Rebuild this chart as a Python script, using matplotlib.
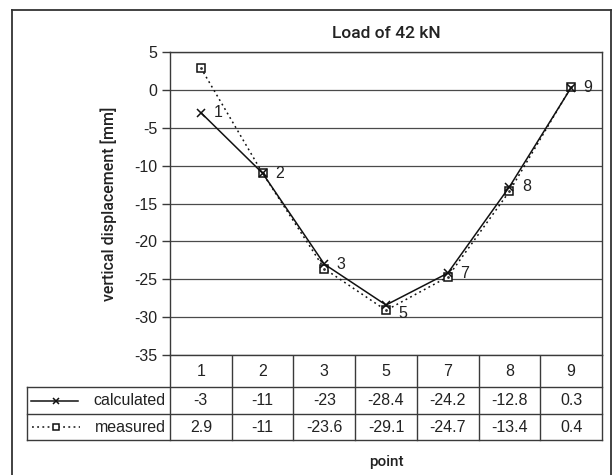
import matplotlib
matplotlib.use("Agg")
import matplotlib.pyplot as plt
from matplotlib import transforms

# data
points = ['1', '2', '3', '5', '7', '8', '9']
calculated = [-3, -11, -23, -28.4, -24.2, -12.8, 0.3]
measured = [2.9, -11, -23.6, -29.1, -24.7, -13.4, 0.4]
yticks = [-35, -30, -25, -20, -15, -10, -5, 0, 5]

W, H = 613, 475
ink = '#222222'
linec = '#3a3a3a'
num_font = 'Liberation Sans'
head_font = 'Roboto'
fs = 11.5

fig = plt.figure(figsize=(W / 100, H / 100), dpi=100)

# overlay in pixel coordinates for frame and table
ov = fig.add_axes([0, 0, 1, 1])
ov.set_xlim(0, W)
ov.set_ylim(H, 0)
ov.axis('off')
ov.patch.set_alpha(0)

# plot area
left, right, top, bottom = 170, 602, 52, 355
ax = fig.add_axes([left / W, 1 - bottom / H, (right - left) / W, (bottom - top) / H])
x = list(range(len(points)))
ax.set_xlim(-0.5, len(points) - 0.5)
ax.set_ylim(yticks[0], yticks[-1])
ax.set_yticks(yticks)
ax.set_yticklabels([str(t) for t in yticks], fontfamily=num_font, fontsize=fs, color=ink)
ax.set_xticks([])
ax.tick_params(axis='y', direction='out', length=6, width=1, color=linec, pad=3)
for s in ax.spines.values():
    s.set_color(linec)
    s.set_linewidth(1)
ax.grid(axis='y', color='#4a4a4a', lw=0.9)
ax.set_axisbelow(True)

ax.plot(x, measured, color='#111111', lw=1.1, ls=(0, (1.2, 2.2)),
        marker='s', ms=6, mfc='white', mec='#111111', mew=1.1, zorder=3)
ax.plot(x, measured, ls='none', marker='.', ms=2, color='#333333', zorder=3)
ax.plot(x, calculated, color='#111111', lw=1.1, marker='x', ms=6, mew=1.1, zorder=4)

offsets = {'5': (9, -6)}
for xi, yi, lab in zip(x, calculated, points):
    ax.annotate(lab, (xi, yi), xytext=offsets.get(lab, (9, 0)), textcoords='offset points',
                ha='left', va='center', fontsize=fs, fontfamily=num_font, color=ink)

ax.set_title('Load of 42 kN', fontfamily=head_font, fontweight='medium', fontsize=12.5,
             color=ink, pad=10)
ov.text(109, (top + bottom) / 2, 'vertical displacement [mm]', rotation=90,
        ha='center', va='center', fontfamily=head_font, fontweight='medium',
        fontsize=11.5, color=ink)

# outer frame
ov.plot([12, 12], [10, H], color='#333333', lw=1.3)
ov.plot([12, 611], [10, 10], color='#333333', lw=1.3)
ov.plot([611, 611], [10, H], color='#333333', lw=1.3)

# data table under the plot
bt = transforms.blended_transform_factory(ax.transData, ov.transData)
r0, r1, r2, r3 = bottom, 387, 414, 440
for i in range(len(points) + 1):
    ov.plot([i - 0.5, i - 0.5], [r0, r3], color=linec, lw=1, transform=bt)
for yy in (r1, r2, r3):
    ov.plot([27, right], [yy, yy], color=linec, lw=1)
ov.plot([27, 27], [r1, r3], color=linec, lw=1)

for i, p in enumerate(points):
    ov.text(i, (r0 + r1) / 2, p, ha='center', va='center', transform=bt,
            fontfamily=num_font, fontsize=fs, color=ink)
    ov.text(i, (r1 + r2) / 2, f'{calculated[i]:g}', ha='center', va='center', transform=bt,
            fontfamily=num_font, fontsize=fs, color=ink)
    ov.text(i, (r2 + r3) / 2, f'{measured[i]:g}', ha='center', va='center', transform=bt,
            fontfamily=num_font, fontsize=fs, color=ink)

# legend keys in the table
yc = (r1 + r2) / 2
ov.plot([31, 78], [yc, yc], color='#111111', lw=1.1)
ov.plot([56], [yc], marker='x', ms=5, mew=1.1, color='#111111')
ov.text(166, yc, 'calculated', ha='right', va='center', fontfamily=num_font,
        fontsize=fs, color=ink)
ym = (r2 + r3) / 2
ov.plot([32, 80], [ym, ym], color='#111111', lw=1.1, ls=(0, (1.2, 2.2)))
ov.plot([56], [ym], marker='s', ms=5, mfc='white', mec='#111111', mew=1.1)
ov.text(166, ym, 'measured', ha='right', va='center', fontfamily=num_font,
        fontsize=fs, color=ink)

ov.text((left + right) / 2, 462, 'point', ha='center', va='center',
        fontfamily=head_font, fontweight='medium', fontsize=11, color=ink)

fig.savefig('out.png', dpi=100)
